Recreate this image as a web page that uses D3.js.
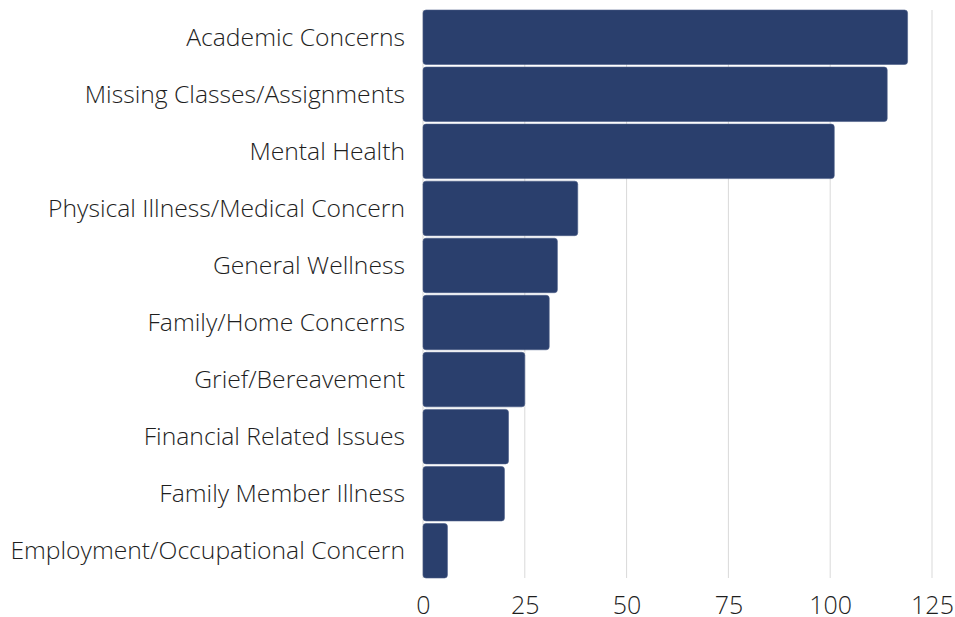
<!DOCTYPE html>
<html>
<head>
<meta charset="utf-8">
<script src="https://cdn.jsdelivr.net/npm/d3@7"></script>
<style>
  body { margin: 0; background: #fff; }
  text { font-family: "Open Sans", sans-serif; font-weight: 300; fill: #1e1e1e; }
</style>
</head>
<body>
<div id="chart"></div>
<script>
const width = 955;
const height = 617;
const margin = {top: 10, right: 23, bottom: 39, left: 423};

const categories = [
  "Academic Concerns",
  "Missing Classes/Assignments",
  "Mental Health",
  "Physical Illness/Medical Concern",
  "General Wellness",
  "Family/Home Concerns",
  "Grief/Bereavement",
  "Financial Related Issues",
  "Family Member Illness",
  "Employment/Occupational Concern"
];
const counts = [119, 114, 101, 38, 33, 31, 25, 21, 20, 6];
const xTicks = [0, 25, 50, 75, 100, 125];

const svg = d3.select('#chart')
  .append('svg')
  .attr('width', width)
  .attr('height', height);

const x = d3.scaleLinear()
  .domain([0, 125])
  .range([margin.left, width - margin.right]);

const y = d3.scaleBand()
  .domain(categories)
  .range([margin.top, height - margin.bottom])
  .paddingInner(0.045);

// grid lines
svg.append('g')
  .selectAll('line')
  .data(xTicks)
  .enter()
  .append('line')
  .attr('x1', d => x(d))
  .attr('x2', d => x(d))
  .attr('y1', margin.top)
  .attr('y2', height - margin.bottom)
  .style('stroke', '#d9d9d9')
  .style('stroke-width', '1px');

svg.append('g')
  .selectAll('rect')
  .data(categories)
  .enter()
  .append('rect')
  .attr('x', x(0))
  .attr('y', d => y(d))
  .attr('width', (d, i) => x(counts[i]) - x(0))
  .attr('height', y.bandwidth())
  .attr('rx', 3)
  .style('fill', '#2a3f6d')
  .style('stroke', '#4a5d86')
  .style('stroke-width', '0.6px');

// category labels
svg.append('g')
  .selectAll('text')
  .data(categories)
  .enter()
  .append('text')
  .attr('x', 405)
  .attr('y', d => y(d) + y.bandwidth() / 2)
  .attr('dy', '0.35em')
  .attr('text-anchor', 'end')
  .style('font-size', '24.7px')
  .text(d => d);

// x axis labels
const xAxis = d3.axisBottom(x)
  .tickValues(xTicks)
  .tickSize(0)
  .tickPadding(18);

svg.append('g')
  .attr('transform', `translate(0, ${height - margin.bottom})`)
  .call(xAxis)
  .call(g => g.select('.domain').remove())
  .selectAll('text')
  .style('font-family', '"Open Sans", sans-serif')
  .style('font-weight', 300)
  .style('font-size', '25px')
  .style('fill', '#1e1e1e');
</script>
</body>
</html>
